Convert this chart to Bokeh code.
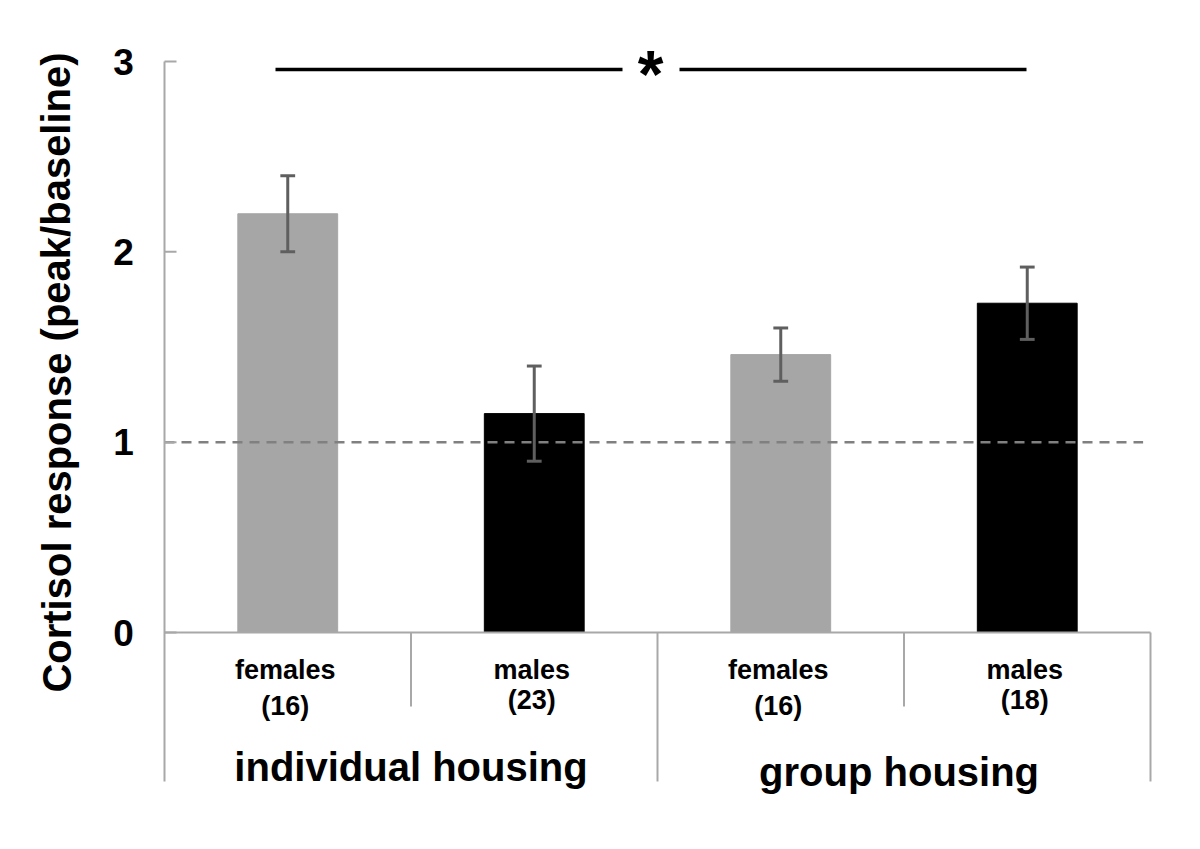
from bokeh.plotting import figure
from bokeh.models import Range1d, ColumnDataSource
from bokeh.core.properties import value
from bokeh.embed import file_html
from bokeh.resources import INLINE

# ---- data ----
sexes = ["females", "males", "females", "males"]
counts = ["(16)", "(23)", "(16)", "(18)"]
groups = ["individual housing", "group housing"]
means = [2.2, 1.15, 1.46, 1.73]
errors = [0.2, 0.25, 0.14, 0.19]
yticks = [0, 1, 2, 3]
ref_level = 1.0
sig_label = "*"

FONT = value("Liberation Sans")
bar_colors = ["#a6a6a6", "#000000", "#a6a6a6", "#000000"]
axis_color = "#a8a8a8"

W, H = 1184, 833
OFF = 0
# map reference pixel geometry onto data units
px_x = 246.5   # pixels per category
px_y = 190.33  # pixels per y-unit
x0_ref, y0_ref = 164, 632
x_start = (OFF - x0_ref) / px_x
x_end = (OFF + W - x0_ref) / px_x
y_end = (y0_ref - OFF) / px_y
y_start = (y0_ref - (OFF + H)) / px_y

p = figure(width=W, height=H, output_backend="svg", toolbar_location=None,
           x_range=Range1d(x_start, x_end), y_range=Range1d(y_start, y_end),
           min_border=0, outline_line_color=None)
p.axis.visible = False
p.grid.visible = False
p.background_fill_color = "white"
p.border_fill_color = "white"

n = len(means)
xc = [i + 0.5 for i in range(n)]

# bars
src = ColumnDataSource(dict(x=xc, top=means, color=bar_colors))
p.vbar(x="x", top="top", bottom=0, width=0.405, fill_color="color",
       line_color="color", source=src)

# reference dashed line
p.segment(x0=[0], y0=[ref_level], x1=[3.97], y1=[ref_level],
          line_color="#808080", line_width=2.5, line_dash="10 7")

# error bars
lo = [m - e for m, e in zip(means, errors)]
hi = [m + e for m, e in zip(means, errors)]
err_col = "#5f5f5f"
p.segment(x0=xc, y0=lo, x1=xc, y1=hi, line_color=err_col, line_width=3)
cap = 0.03
p.segment(x0=[x - cap for x in xc], y0=hi, x1=[x + cap for x in xc], y1=hi,
          line_color=err_col, line_width=3)
p.segment(x0=[x - cap for x in xc], y0=lo, x1=[x + cap for x in xc], y1=lo,
          line_color=err_col, line_width=3)

# axes lines
y_bottom_long = (y0_ref - 781) / px_y
y_bottom_short = (y0_ref - 706) / px_y
p.segment(x0=[0], y0=[yticks[-1]], x1=[0], y1=[y_bottom_long],
          line_color=axis_color, line_width=2)
p.segment(x0=[0], y0=[0], x1=[n], y1=[0], line_color=axis_color, line_width=2)
p.segment(x0=[0] * len(yticks), y0=yticks, x1=[12 / px_x] * len(yticks), y1=yticks,
          line_color=axis_color, line_width=2)
p.segment(x0=[2, 4], y0=[0, 0], x1=[2, 4], y1=[y_bottom_long] * 2,
          line_color=axis_color, line_width=2)
p.segment(x0=[1, 3], y0=[0, 0], x1=[1, 3], y1=[y_bottom_short] * 2,
          line_color=axis_color, line_width=2)

# y tick labels
p.text(x=[(123 - x0_ref) / px_x] * len(yticks), y=yticks,
       text=[str(t) for t in yticks], text_font=FONT, text_font_style="bold",
       text_font_size="37px", text_align="center", text_baseline="middle",
       text_color="black")

# y axis title
p.text(x=[(56 - x0_ref) / px_x], y=[(y0_ref - 372) / px_y],
       text=["Cortisol response (peak/baseline)"], angle=1.5708,
       text_font=FONT, text_font_style="bold", text_font_size="40px",
       text_align="center", text_baseline="alphabetic", text_color="black")

# category labels
p.text(x=[x - 0.01 for x in xc], y=[(y0_ref - 669) / px_y] * n, text=sexes,
       text_font=FONT, text_font_style="bold", text_font_size="27px",
       text_align="center", text_baseline="alphabetic", text_color="black")
count_base = [705, 699, 705, 699]
p.text(x=[x - 0.01 for x in xc], y=[(y0_ref - b) / px_y for b in count_base],
       text=counts, text_font=FONT, text_font_style="bold", text_font_size="27px",
       text_align="center", text_baseline="alphabetic", text_color="black")

# group labels
p.text(x=[1.0, 2.98], y=[(y0_ref - 766) / px_y, (y0_ref - 771) / px_y], text=groups,
       text_font=FONT, text_font_style="bold", text_font_size="40px",
       text_align="center", text_baseline="alphabetic", text_color="black")

# significance bracket
sig_y = (y0_ref - 69) / px_y
p.segment(x0=[(275 - x0_ref) / px_x, (679 - x0_ref) / px_x], y0=[sig_y, sig_y],
          x1=[(622 - x0_ref) / px_x, (1026 - x0_ref) / px_x], y1=[sig_y, sig_y],
          line_color="black", line_width=3.5)
p.text(x=[(650 - x0_ref) / px_x], y=[(y0_ref - 73) / px_y], text=[sig_label],
       text_font=FONT, text_font_style="bold", text_font_size="66px",
       text_align="center", text_baseline="alphabetic", text_color="black")

open("out.html", "w").write(file_html(p, INLINE))
